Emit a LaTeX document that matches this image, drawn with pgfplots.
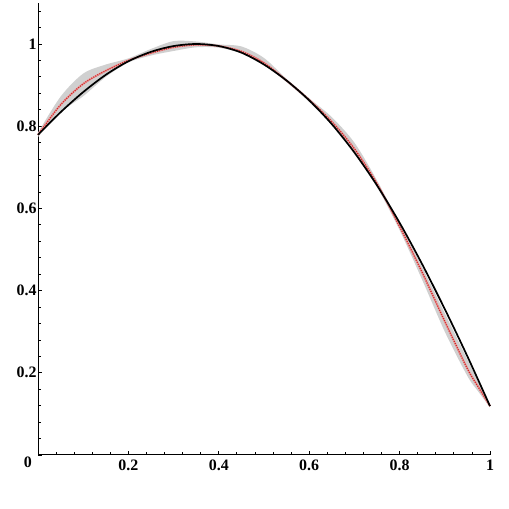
\documentclass[border=0pt]{standalone}
\usepackage{fontspec}
\setmainfont{Liberation Serif}
\usepackage{pgfplots}
\usepackage{pgfplotstable}
\pgfplotsset{compat=1.18}
\usepgfplotslibrary{fillbetween}
\definecolor{bandgrey}{RGB}{208,208,208}
\definecolor{dotred}{RGB}{205,40,40}

\pgfplotstableread{
x y
0 0.779
0.05 0.834
0.1 0.883
0.15 0.925
0.2 0.958
0.25 0.981
0.3 0.995
0.35 1.000
0.4 0.995
0.45 0.979
0.5 0.950
0.55 0.911
0.6 0.863
0.65 0.805
0.7 0.736
0.75 0.656
0.8 0.565
0.85 0.464
0.9 0.355
0.95 0.240
1.0 0.119
}\blackcurve

\pgfplotstableread{
x y
0 0.779
0.05 0.852
0.1 0.903
0.15 0.935
0.2 0.960
0.25 0.978
0.3 0.992
0.35 0.998
0.4 0.995
0.45 0.982
0.5 0.954
0.55 0.911
0.6 0.864
0.65 0.811
0.7 0.745
0.75 0.660
0.8 0.556
0.85 0.444
0.9 0.325
0.95 0.210
0.975 0.164
1.0 0.119
}\redcurve

\pgfplotstableread{
x y
0 0.784
0.05 0.872
0.1 0.928
0.15 0.950
0.2 0.965
0.25 0.988
0.3 1.007
0.35 1.006
0.4 0.999
0.45 0.994
0.5 0.966
0.55 0.915
0.6 0.868
0.65 0.822
0.7 0.760
0.75 0.668
0.8 0.562
0.85 0.457
0.9 0.345
0.95 0.232
0.975 0.176
1.0 0.121
}\bandupper

\pgfplotstableread{
x y
0 0.774
0.05 0.834
0.1 0.873
0.15 0.920
0.2 0.955
0.25 0.972
0.3 0.983
0.35 0.992
0.4 0.991
0.45 0.977
0.5 0.949
0.55 0.907
0.6 0.859
0.65 0.803
0.7 0.735
0.75 0.652
0.8 0.547
0.85 0.426
0.9 0.300
0.95 0.192
0.975 0.153
1.0 0.116
}\bandlower

\begin{document}
\begin{tikzpicture}
\begin{axis}[
  at={(38bp,54bp)}, anchor=origin,
  x=452bp, y=411bp,
  xmin=0, xmax=1, ymin=0, ymax=1.1,
  clip=false,
  axis lines=left,
  axis line style={-, line width=1bp, black},
  xtick={0,0.2,0.4,0.6,0.8,1},
  xticklabels={,0.2,0.4,0.6,0.8,1},
  ytick={0,0.2,0.4,0.6,0.8,1,1.2},
  yticklabels={,0.2,0.4,0.6,0.8,1,},
  minor tick num=4,
  tick align=inside,
  major tick length=4bp,
  minor tick length=3bp,
  tick style={black, line width=0.8bp},
  /pgf/number format/assume math mode=true,
  tick label style={font=\fontsize{16}{18}\selectfont\bfseries},
  xticklabel style={yshift=-1.5bp},
  yticklabel style={xshift=2bp},
]
\addplot[name path=U, draw=none, smooth] table[x=x,y=y] {\bandupper};
\addplot[name path=L, draw=none, smooth] table[x=x,y=y] {\bandlower};
\addplot[bandgrey, draw=none] fill between[of=U and L];
\addplot[dotred!45, line width=2bp, smooth] table[x=x,y=y] {\redcurve};
\addplot[dotred, line width=1.3bp, dash pattern=on 1bp off 1.3bp, smooth] table[x=x,y=y] {\redcurve};
\addplot[black, line width=1.7bp, smooth] table[x=x,y=y] {\blackcurve};
\node[anchor=north east, inner sep=0pt, xshift=-6bp, yshift=-2bp, font=\fontsize{16}{18}\selectfont\bfseries] at (axis cs:0,0) {0};
\end{axis}
\pgfresetboundingbox
\path[use as bounding box] (0,0) rectangle (509bp,509bp);
\end{tikzpicture}
\end{document}
